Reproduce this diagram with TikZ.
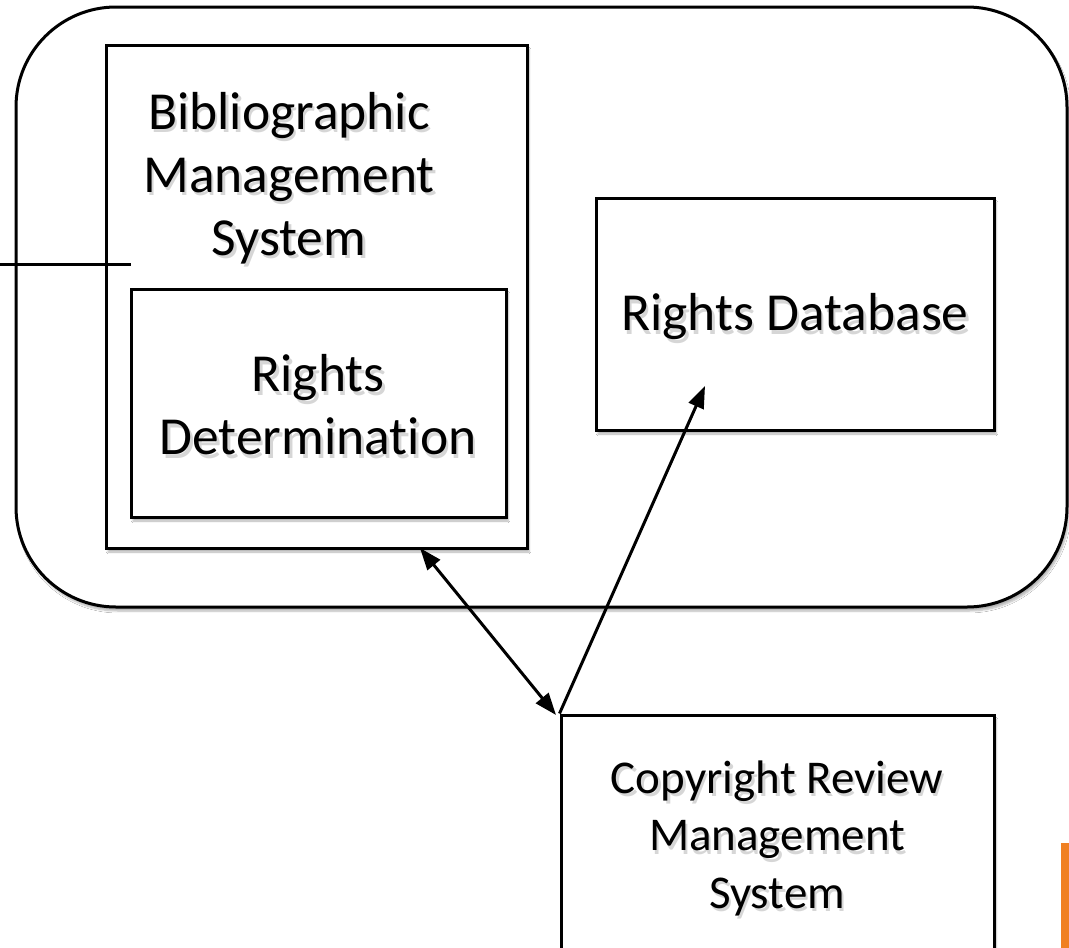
\documentclass[tikz,border=0pt]{standalone}
\usepackage{fontspec}
\setmainfont[Ligatures={NoCommon}]{Carlito}
\usetikzlibrary{arrows.meta,shadows.blur,calc}
\definecolor{accent}{RGB}{240,128,34}
\tikzset{
  box/.style={draw=black, line width=3pt, fill=white, rectangle, inner sep=0pt,
    blur shadow={shadow xshift=2pt, shadow yshift=-4pt, shadow blur steps=6, shadow opacity=30}},
  label/.style={font=\fontsize{53.5}{63}\selectfont, align=center, inner sep=0pt,
    text=black},
  smalllabel/.style={label, font=\fontsize{47}{57.5}\selectfont},
  shade/.style={text=black!45, opacity=0.35},
  link/.style={line width=3pt, draw=black},
  tip/.style={-{Triangle[length=22pt,width=16pt]}},
  tips/.style={{Triangle[length=22pt,width=16pt]}-{Triangle[length=22pt,width=16pt]}},
}
% a label with a soft drop shadow behind it
\newcommand{\shadedlabel}[4]{%
  \node[#1, shade] (#2shade) at ($(#3)+(2.5,3.5)$) {#4};
  \node[#1] (#2) at (#3) {#4};}
\begin{document}
\begin{tikzpicture}[x=1pt, y=-1pt]
  \clip (0,0) rectangle (1069,948);
  \fill[white] (0,0) rectangle (1069,948);

  % enclosing system boundary
  \node[box, rounded corners=100pt, minimum width=1051pt, minimum height=600pt]
    (outer) at (541.5,307) {};

  % bibliographic management system with the rights determination module
  \node[box, minimum width=421pt, minimum height=503pt] (bms) at (316.5,296.5) {};
  \node[box, minimum width=375pt, minimum height=228pt] (rdet) at (318.5,403) {};
  \shadedlabel{label}{bmstext}{289,178}{Bibliographic\\Management\\System}
  \shadedlabel{label}{rdettext}{318,405}{Rights\\Determination}

  % rights database
  \node[box, minimum width=398pt, minimum height=232pt] (rdb) at (795,314) {};
  \shadedlabel{label}{rdbtext}{795,317}{Rights Database}

  % copyright review management system
  \node[box, minimum width=433pt, minimum height=260pt] (crms) at (777.5,845) {};
  \shadedlabel{smalllabel}{crmstext}{777,838}{Copyright Review\\Management\\System}

  % connectors
  \coordinate (ext) at (-2,264);
  \coordinate (extend) at (131,264);
  \draw[link] (ext) -- (extend);

  \coordinate (bmsport) at (420,548);
  \coordinate (crmsport) at (556,715);
  \draw[link, tips] (bmsport) -- (crmsport);

  \coordinate (rdbport) at (705,386);
  \draw[link, tip] (crms.north west) -- (rdbport);

  % accent bar
  \fill[accent] (1061,843) rectangle (1072,950);
\end{tikzpicture}
\end{document}
